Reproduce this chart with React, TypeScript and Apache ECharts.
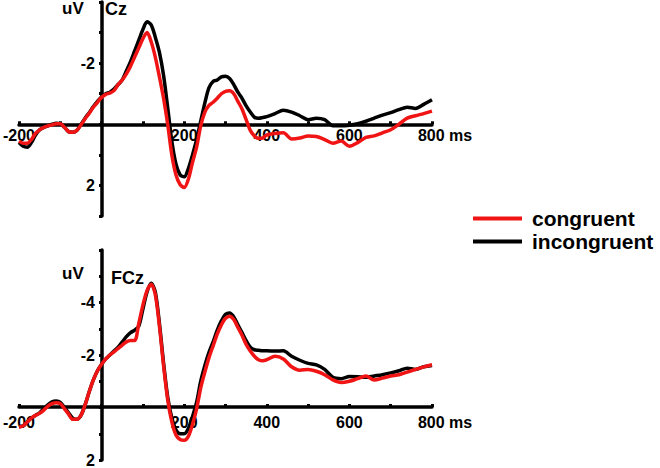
import React, { useEffect, useRef } from "react";
import * as echarts from "echarts";

// Time points (ms)
const times: number[] = [
  -200, -190, -180, -170, -160, -150, -140, -130, -120, -110, -100, -90, -80, -70, -60, -50, -40, -30, -20, -10,
  0, 10, 20, 30, 40, 50, 60, 70, 80, 90, 100, 110, 120, 130, 140, 150, 160, 170, 180, 190,
  200, 210, 220, 230, 240, 250, 260, 270, 280, 290, 300, 310, 320, 330, 340, 350, 360, 370, 380, 390,
  400, 420, 440, 460, 480, 500, 520, 540, 560, 580, 600, 620, 640, 660, 680, 700, 720, 740, 760, 780, 800,
];

// Cz (uV)
const czIncongruent: number[] = [
  0.6, 0.72, 0.75, 0.6, 0.35, 0.18, 0.1, 0.05, 0.0, -0.03, -0.02, 0.1, 0.24, 0.26, 0.2, 0.0, -0.2, -0.38, -0.58, -0.75,
  -0.9, -1.0, -1.05, -1.15, -1.3, -1.45, -1.75, -2.05, -2.4, -2.75, -3.1, -3.35, -3.25, -2.85, -2.35, -1.6, -0.55, 0.55, 1.3, 1.65,
  1.72, 1.45, 1.0, 0.5, -0.1, -0.7, -1.2, -1.4, -1.45, -1.55, -1.57, -1.5, -1.3, -1.05, -0.85, -0.6, -0.4, -0.23, -0.2, -0.22,
  -0.25, -0.35, -0.46, -0.4, -0.28, -0.15, -0.2, -0.15, 0.05, 0.05, 0.03, -0.02, -0.1, -0.2, -0.3, -0.38, -0.48, -0.56, -0.52, -0.65, -0.8,
];
const czCongruent: number[] = [
  0.55, 0.62, 0.62, 0.5, 0.3, 0.18, 0.1, 0.05, 0.02, -0.02, -0.02, 0.1, 0.24, 0.26, 0.2, 0.02, -0.18, -0.36, -0.56, -0.72,
  -0.88, -0.98, -1.02, -1.1, -1.3, -1.45, -1.65, -1.9, -2.2, -2.5, -2.8, -3.0, -2.7, -2.2, -1.55, -0.85, 0.0, 1.0, 1.65, 1.97,
  2.07, 1.8, 1.25, 0.75, 0.05, -0.4, -0.62, -0.72, -0.85, -1.0, -1.08, -1.1, -1.0, -0.75, -0.5, -0.15, 0.2, 0.38, 0.46, 0.45,
  0.35, 0.3, 0.28, 0.48, 0.45, 0.38, 0.4, 0.5, 0.62, 0.55, 0.72, 0.6, 0.43, 0.38, 0.28, 0.18, 0.0, -0.2, -0.28, -0.35, -0.43,
];

// FCz (uV)
const fczIncongruent: number[] = [
  0.72, 0.7, 0.55, 0.4, 0.3, 0.2, 0.05, -0.1, -0.22, -0.25, -0.2, 0.0, 0.2, 0.4, 0.45, 0.3, -0.1, -0.6, -1.05, -1.4,
  -1.65, -1.85, -2.0, -2.15, -2.3, -2.5, -2.7, -2.85, -2.95, -3.1, -3.75, -4.4, -4.73, -4.4, -3.2, -1.7, -0.4, 0.4, 0.85, 1.0,
  1.0, 0.8, 0.35, -0.2, -1.0, -1.6, -2.1, -2.5, -2.95, -3.3, -3.55, -3.6, -3.45, -3.15, -2.85, -2.55, -2.3, -2.2, -2.18, -2.16,
  -2.16, -2.15, -2.16, -1.95, -1.8, -1.68, -1.62, -1.45, -1.15, -1.1, -1.18, -1.17, -1.15, -1.2, -1.25, -1.32, -1.4, -1.5, -1.45, -1.55, -1.6,
];
const fczCongruent: number[] = [
  0.75, 0.7, 0.55, 0.4, 0.3, 0.22, 0.1, -0.05, -0.15, -0.18, -0.15, 0.05, 0.25, 0.45, 0.45, 0.3, -0.1, -0.6, -1.05, -1.4,
  -1.65, -1.85, -2.0, -2.12, -2.25, -2.38, -2.5, -2.55, -2.55, -3.2, -3.9, -4.45, -4.7, -4.3, -3.1, -1.6, -0.3, 0.55, 1.05, 1.22,
  1.25, 1.1, 0.65, 0.05, -0.75, -1.35, -1.9, -2.35, -2.8, -3.15, -3.4, -3.48, -3.35, -3.05, -2.75, -2.4, -2.15, -1.95, -1.82, -1.78,
  -1.82, -1.95, -1.85, -1.55, -1.42, -1.45, -1.38, -1.25, -1.05, -0.95, -1.0, -1.1, -1.2, -1.05, -1.12, -1.2, -1.25, -1.35, -1.45, -1.55, -1.63,
];

const xLabelTicks: number[] = [-200, 200, 400, 600, 800];
const czYLabels: number[] = [-2, 2];
const fczYLabels: number[] = [-4, -2, 2];

const FONT = "'Liberation Sans', Arial, sans-serif";
const RED = "#f01414";
const BLACK = "#000000";

const X_MIN = -200;
const X_MAX = 800;
const GRID_LEFT = 17;
const GRID_RIGHT = 228;
const PLOT_W = 660 - GRID_LEFT - GRID_RIGHT;
// offset to move the left y axis onto x = 0
const Y_OFFSET = -((0 - X_MIN) / (X_MAX - X_MIN)) * PLOT_W;

const pair = (vals: number[]) => times.map((t, i) => [t, vals[i]]);

// offset to move the bottom x axis onto y = 0 (inverse axis, min at top)
function xOffset(height: number, min: number, max: number) {
  const zeroFromTop = ((0 - min) / (max - min)) * height;
  return -(height - zeroFromTop);
}

function makeXAxis(gridIndex: number, margin: number, offset: number) {
  return {
    type: "value",
    gridIndex,
    min: X_MIN,
    max: X_MAX,
    interval: 100,
    offset,
    axisLine: { onZero: false, lineStyle: { color: BLACK, width: 3.5 } },
    axisTick: { show: true, inside: true, length: 3, lineStyle: { color: BLACK, width: 3 } },
    splitLine: { show: false },
    axisLabel: {
      margin,
      color: BLACK,
      fontFamily: FONT,
      fontWeight: "bold",
      fontSize: 16,
      formatter: (v: number) => {
        if (!xLabelTicks.includes(v)) return "";
        if (v === 800) return "{m|800 ms}";
        return String(v);
      },
      rich: {
        m: { fontFamily: FONT, fontWeight: "bold", fontSize: 16, color: BLACK, padding: [0, 0, 0, 26] },
      },
    },
  };
}

function makeYAxis(gridIndex: number, min: number, max: number, labels: number[]) {
  return {
    type: "value",
    gridIndex,
    inverse: true,
    min,
    max,
    interval: 1,
    offset: Y_OFFSET,
    axisLine: { show: true, onZero: false, lineStyle: { color: BLACK, width: 3.5 } },
    axisTick: { show: true, inside: false, length: 3, lineStyle: { color: BLACK, width: 3 } },
    splitLine: { show: false },
    axisLabel: {
      margin: 7,
      color: BLACK,
      fontFamily: FONT,
      fontWeight: "bold",
      fontSize: 16,
      formatter: (v: number) => (labels.includes(v) ? String(v) : ""),
    },
  };
}

function lineSeries(name: string, color: string, vals: number[], idx: number) {
  return {
    type: "line",
    name,
    xAxisIndex: idx,
    yAxisIndex: idx,
    data: pair(vals),
    showSymbol: false,
    symbol: "none",
    smooth: 0.3,
    lineStyle: { color, width: 3.5 },
    itemStyle: { color },
    z: color === RED ? 3 : 2,
  };
}

export default function App() {
  const ref = useRef<HTMLDivElement>(null);
  useEffect(() => {
    if (!ref.current) return;
    const chart = echarts.init(ref.current, undefined, { renderer: "svg" });
    const h1 = 214;
    const h2 = 212;
    chart.setOption({
      animation: false,
      backgroundColor: "#ffffff",
      grid: [
        { left: GRID_LEFT, right: GRID_RIGHT, top: 2, height: h1 },
        { left: GRID_LEFT, right: GRID_RIGHT, top: 250, height: h2 },
      ],
      xAxis: [makeXAxis(0, 3, xOffset(h1, -4, 3)), makeXAxis(1, 7, xOffset(h2, -6, 2))],
      yAxis: [makeYAxis(0, -4, 3, czYLabels), makeYAxis(1, -6, 2, fczYLabels)],
      legend: {
        orient: "vertical",
        left: 473,
        top: 208,
        padding: 0,
        icon: "rect",
        itemWidth: 49,
        itemHeight: 4,
        itemGap: 2,
        data: ["congruent", "incongruent"],
        textStyle: { fontFamily: FONT, fontWeight: "bold", fontSize: 21, color: BLACK, padding: [0, 0, 0, 5] },
      },
      graphic: [
        { type: "text", left: 62, top: 0, style: { text: "uV", font: `bold 17px ${FONT}`, fill: BLACK } },
        { type: "text", left: 105, top: 0, style: { text: "Cz", font: `bold 18px ${FONT}`, fill: BLACK } },
        { type: "text", left: 62, top: 265, style: { text: "uV", font: `bold 17px ${FONT}`, fill: BLACK } },
        { type: "text", left: 111, top: 269, style: { text: "FCz", font: `bold 18px ${FONT}`, fill: BLACK } },
      ],
      series: [
        lineSeries("incongruent", BLACK, czIncongruent, 0),
        lineSeries("congruent", RED, czCongruent, 0),
        lineSeries("incongruent", BLACK, fczIncongruent, 1),
        lineSeries("congruent", RED, fczCongruent, 1),
      ],
    });
    return () => chart.dispose();
  }, []);
  return (
    <div
      ref={ref}
      style={{ position: "fixed", left: 0, top: 0, width: 660, height: 468, background: "#fff" }}
    />
  );
}
